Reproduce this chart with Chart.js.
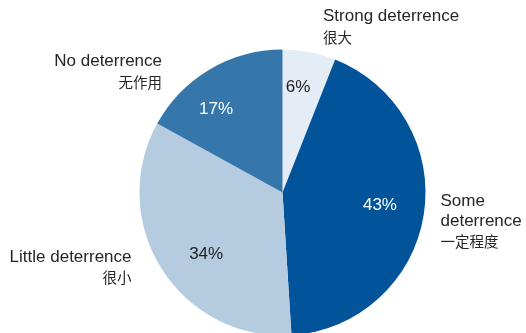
<!DOCTYPE html>
<html>
<head>
<meta charset="utf-8">
<script src="https://cdn.jsdelivr.net/npm/chart.js@4/dist/chart.umd.min.js"></script>
<style>
  html, body { margin: 0; padding: 0; background: #fff; overflow: hidden; }
  #wrap { width: 526px; height: 340px; }
</style>
</head>
<body>
<div id="wrap"><canvas id="deterrence" width="526" height="340"></canvas></div>
<script>
let categories = ["Strong deterrence", "Some deterrence", "Little deterrence", "No deterrence"];
let chineseNames = ["很大", "一定程度", "很小", "无作用"];
let shares = [6, 43, 34, 17];
let sliceColours = ["#e4ecf5", "#02549a", "#b5cce0", "#3577ab"];
let pctColours = ["#222222", "#ffffff", "#222222", "#ffffff"];

// where the labels go, relative to centre (in px)
const pctNudge = [[-2.4, 0.745], [-1.7, 0.687], [-6.6, 0.687], [-7.9, 0.746]];
const outer = [
  { dx: 40.5, dy: -176, align: "left", lines: ["Strong deterrence"] },
  { dx: 158, dy: 8.5, align: "left", lines: ["Some", "deterrence"] },
  { dx: -151, dy: 64.5, align: "right", lines: ["Little deterrence"] },
  { dx: -120.5, dy: -131, align: "right", lines: ["No deterrence"] }
];

const latin = '"Liberation Sans", Arial, sans-serif';
const cjk = '"Noto Sans CJK SC", sans-serif';

const labelPlugin = {
  id: "pieLabels",
  afterDraw(chart) {
    const ctx = chart.ctx;
    const arcs = chart.getDatasetMeta(0).data;
    ctx.save();
    ctx.textBaseline = "middle";
    arcs.forEach((arc, i) => {
      const p = arc.getProps(["x", "y", "startAngle", "endAngle", "outerRadius"], true);
      const mid = (p.startAngle + p.endAngle) / 2 + pctNudge[i][0] * Math.PI / 180;
      const r = p.outerRadius * pctNudge[i][1];
      ctx.fillStyle = pctColours[i];
      ctx.textAlign = "center";
      ctx.font = "17px " + latin;
      ctx.fillText(shares[i] + "%", p.x + Math.cos(mid) * r, p.y + Math.sin(mid) * r);

      const o = outer[i];
      ctx.fillStyle = "#262626";
      ctx.textAlign = o.align;
      let y = p.y + o.dy;
      o.lines.forEach(line => {
        ctx.font = "17px " + latin;
        ctx.fillText(line, p.x + o.dx, y);
        y += 20;
      });
      ctx.font = "14.5px " + cjk;
      ctx.fillText(chineseNames[i], p.x + o.dx, y + 0.5);
    });
    ctx.restore();
  }
};

new Chart(document.getElementById("deterrence"), {
  type: "pie",
  data: {
    labels: categories,
    datasets: [{
      data: shares,
      backgroundColor: sliceColours,
      borderWidth: 0
    }]
  },
  options: {
    responsive: false,
    animation: false,
    layout: { padding: { left: 139.5, right: 100.5, top: 49.5, bottom: 4.5 } },
    plugins: {
      legend: { display: false },
      tooltip: { enabled: false }
    }
  },
  plugins: [labelPlugin]
});
</script>
</body>
</html>
